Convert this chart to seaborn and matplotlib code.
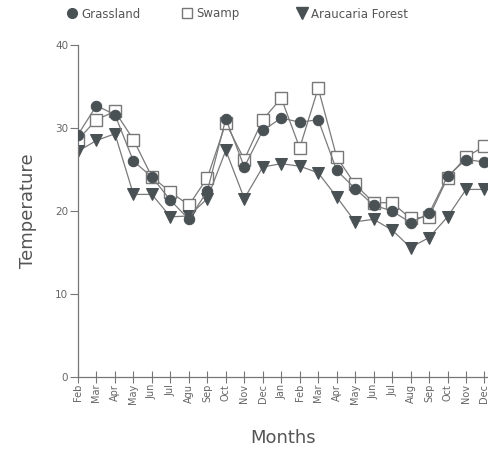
import matplotlib
matplotlib.use("Agg")
import matplotlib.pyplot as plt
import seaborn as sns
import pandas as pd
from matplotlib.lines import Line2D

# 월별 온도 데이터
months = ["Feb", "Mar", "Apr", "May", "Jun", "Jul", "Agu", "Sep", "Oct", "Nov", "Dec",
          "Jan", "Feb", "Mar", "Apr", "May", "Jun", "Jul", "Aug", "Sep", "Oct", "Nov", "Dec"]
grassland = [29.2, 32.7, 31.6, 26.0, 24.1, 21.3, 19.0, 22.4, 31.1, 25.3, 29.7,
             31.2, 30.7, 31.0, 24.9, 22.7, 20.7, 20.0, 18.6, 19.7, 24.2, 26.2, 25.9]
swamp = [28.6, 31.0, 32.0, 28.6, 24.1, 22.3, 20.7, 24.0, 30.6, 26.2, 31.0,
         33.6, 27.6, 34.8, 26.5, 23.2, 21.0, 21.0, 19.1, 19.3, 24.0, 26.5, 27.8]
araucaria = [27.2, 28.5, 29.3, 22.0, 22.0, 19.3, 19.4, 21.5, 27.3, 21.5, 25.3,
             25.7, 25.4, 24.6, 21.7, 18.7, 19.0, 17.7, 15.6, 16.8, 19.3, 22.6, 22.6]

df = pd.DataFrame({"idx": range(len(months)), "month": months,
                   "Grassland": grassland, "Swamp": swamp, "Araucaria Forest": araucaria})

sns.set_style("white")
plt.rcParams["font.family"] = ["DejaVu Sans"]

dark = "#4a5154"
linec = "#7a7a7a"
textc = "#666666"

fig = plt.figure(figsize=(4.88, 4.53), dpi=100)
ax = fig.add_axes([78 / 488, 76 / 453, 410 / 488, 332 / 453])

sns.lineplot(data=df, x="idx", y="Grassland", ax=ax, color=linec, lw=0.9,
             marker="o", markersize=7.5, markerfacecolor=dark, markeredgecolor=dark, zorder=3)
sns.lineplot(data=df, x="idx", y="Swamp", ax=ax, color=linec, lw=0.9,
             marker="s", markersize=8, markerfacecolor="white", markeredgecolor="#777777",
             markeredgewidth=1, zorder=2)
sns.lineplot(data=df, x="idx", y="Araucaria Forest", ax=ax, color=linec, lw=0.9,
             marker="v", markersize=9, markerfacecolor=dark, markeredgecolor=dark, zorder=2)

ax.set_xlim(0, 22.19)
ax.set_ylim(0, 40)
ax.set_xticks(df["idx"])
ax.set_xticklabels(months, rotation=90, fontsize=7, color=textc)
ax.set_yticks([0, 10, 20, 30, 40])
ax.set_yticklabels(["0", "10", "20", "30", "40"], fontsize=7.5, color=textc)
ax.tick_params(axis="x", bottom=True, direction="inout", length=8, width=0.8, color="#777777", pad=1)
ax.tick_params(axis="y", left=True, direction="out", length=6, width=0.8, color="#777777", pad=1)

for s in ["top", "right"]:
    ax.spines[s].set_visible(False)
for s in ["left", "bottom"]:
    ax.spines[s].set_color("#777777")
    ax.spines[s].set_linewidth(0.9)

ax.set_xlabel("Months", fontsize=13, color="#555555", labelpad=18)
ax.set_ylabel("Temperature", fontsize=13, color="#555555", labelpad=13)

# 범례
handles = [
    Line2D([], [], ls="", marker="o", markersize=7, markerfacecolor=dark, markeredgecolor=dark),
    Line2D([], [], ls="", marker="s", markersize=7.5, markerfacecolor="white", markeredgecolor="#777777"),
    Line2D([], [], ls="", marker="v", markersize=8, markerfacecolor=dark, markeredgecolor=dark),
]
names = ["Grassland", "Swamp", "Araucaria Forest"]
for i, (h, n) in enumerate(zip(handles, names)):
    leg = fig.legend(handles=[h], labels=[n], loc="center left",
                     bbox_to_anchor=((67 + 115 * i) / 488, 1 - 14 / 453),
                     frameon=False, fontsize=8.5, handlelength=0.8, handletextpad=0.4,
                     borderaxespad=0, borderpad=0)
    for t in leg.get_texts():
        t.set_color("#555555")

fig.savefig("out.png", dpi=100)
